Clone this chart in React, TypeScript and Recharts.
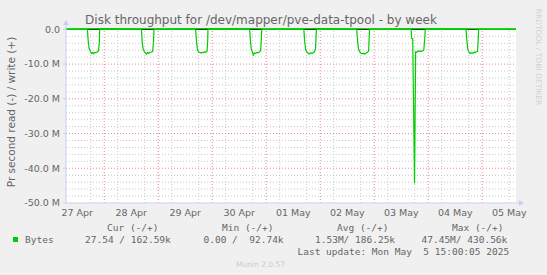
import React from 'react';
import { LineChart, Line, XAxis, YAxis, CartesianGrid, ReferenceLine } from 'recharts';

// Hours since 27 Apr 00:00 ; values in MB/s (read drawn negative)
const readHours = [
  7, 16.5, 16.9, 17.3, 17.8, 18.3, 18.8, 19.2, 19.7, 20.3, 20.9, 21.4, 21.8, 22.0,
  40.5, 40.9, 41.3, 41.8, 42.3, 42.8, 43.3, 43.8, 44.4, 45.0, 45.5, 45.9, 46.1,
  64.6, 65.0, 65.4, 65.9, 66.4, 67.0, 67.5, 68.0, 68.6, 69.2, 69.7, 70.0, 70.1,
  88.6, 89.0, 89.4, 89.9, 90.3, 90.8, 91.3, 91.9, 92.5, 93.0, 93.5, 93.8, 94.0,
  112.7, 113.1, 113.5, 114.0, 114.6, 115.1, 115.7, 116.3, 116.9, 117.5, 117.9, 118.1, 118.3,
  136.2, 136.6, 137.0, 137.5, 138.0, 138.6, 139.2, 139.8, 140.4, 141.0, 141.5, 141.7, 141.9,
  160.4, 160.6, 161.1, 161.9, 162.4, 162.8, 163.3, 164.0, 164.8, 165.5, 166.0, 166.4, 166.7,
  184.8, 185.2, 185.6, 186.1, 186.6, 187.1, 187.7, 188.3, 188.9, 189.4, 189.9, 190.2, 190.4,
  207,
];
const readMB = [
  0, 0, -3.5, -5.6, -6.3, -6.9, -6.7, -7.0, -6.6, -6.7, -6.5, -6.2, -4.0, 0,
  0, -3.8, -5.7, -6.4, -6.8, -7.1, -6.7, -6.9, -6.6, -6.5, -6.4, -3.5, 0,
  0, -3.2, -5.8, -6.5, -6.6, -6.8, -6.6, -6.7, -6.5, -6.6, -6.3, -3.0, 0,
  0, -3.5, -5.9, -6.6, -7.4, -6.8, -6.9, -6.6, -6.7, -6.5, -6.1, -3.0, 0,
  0, -3.6, -5.8, -6.5, -6.8, -7.1, -6.8, -6.9, -6.7, -6.4, -5.5, -2.5, 0,
  0, -3.4, -5.6, -6.4, -6.8, -7.0, -6.9, -7.1, -6.8, -6.6, -6.2, -3.0, 0,
  0, -2.6, -2.7, -44.3, -6.5, -6.6, -6.3, -6.2, -6.3, -6.2, -6.0, -3.0, 0,
  0, -3.5, -5.8, -6.5, -7.0, -6.7, -6.9, -6.6, -6.7, -6.4, -6.3, -3.0, 0,
  0,
];
const writeHours = [7, 24, 48, 72, 96, 120, 144, 168, 192, 207];
const writeMB = [0.17, 0.2, 0.18, 0.22, 0.19, 0.21, 0.18, 0.2, 0.17, 0.16];

const dayLabelHours = [12, 36, 60, 84, 108, 132, 156, 180, 204];
const dayLabels = ['27 Apr', '28 Apr', '29 Apr', '30 Apr', '01 May', '02 May', '03 May', '04 May', '05 May'];
const yTicks = [-50, -40, -30, -20, -10, 0];
const yTickLabels = ['-50.0 M', '-40.0 M', '-30.0 M', '-20.0 M', '-10.0 M', '0.0'];

const legendHeaders = ['Cur (-/+)', 'Min (-/+)', 'Avg (-/+)', 'Max (-/+)'];
const legendValues = ['27.54 / 162.59k', '0.00 /  92.74k', '1.53M/ 186.25k', '47.45M/ 430.56k'];
const lastUpdate = 'Last update: Mon May  5 15:00:05 2025';

const readData = readHours.map((h, i) => ({ h, v: readMB[i] }));
const writeData = writeHours.map((h, i) => ({ h, v: writeMB[i] }));

const minorX: number[] = [];
for (let h = 12; h <= 204; h += 6) if (h % 24 !== 0) minorX.push(h);
const majorX: number[] = [];
for (let h = 24; h <= 192; h += 24) majorX.push(h);
const minorY: number[] = [];
for (let v = -48; v <= -2; v += 2) if (v % 10 !== 0) minorY.push(v);
const majorY = [-40, -30, -20, -10];

const FONT = 'DejaVu Sans, sans-serif';
const MONO = 'DejaVu Sans Mono, monospace';
const TXT = '#666666';
const AXIS = '#c8cff2';

export default function App() {
  return (
    <div style={{ position: 'absolute', left: 0, top: 0, width: 547, height: 275, background: '#f0f0f0', overflow: 'hidden' }}>
      <LineChart width={547} height={275} data={readData} margin={{ top: 28, right: 31, bottom: 52, left: 6 }}>
        <CartesianGrid
          fill="#ffffff"
          stroke="#c8c8c8"
          strokeDasharray="1 2"
          horizontalValues={minorY}
          verticalValues={minorX}
        />
        <CartesianGrid
          fill="none"
          stroke="#e88a8a"
          strokeDasharray="1 2"
          horizontalValues={majorY}
          verticalValues={majorX}
        />
        <XAxis
          dataKey="h"
          type="number"
          domain={[7, 207]}
          ticks={dayLabelHours}
          tickFormatter={(v: number) => dayLabels[dayLabelHours.indexOf(v)]}
          tick={{ fontSize: 9.5, fill: TXT, fontFamily: FONT }}
          tickLine={false}
          tickSize={3}
          tickMargin={3}
          axisLine={{ stroke: AXIS }}
          height={20}
          allowDataOverflow
        />
        <YAxis
          type="number"
          domain={[-50, 0.4]}
          ticks={yTicks}
          tickFormatter={(v: number) => yTickLabels[yTicks.indexOf(v)]}
          tick={{ fontSize: 9.5, fill: TXT, fontFamily: FONT }}
          tickLine={{ stroke: AXIS }}
          tickSize={3}
          tickMargin={3}
          axisLine={{ stroke: AXIS }}
          width={60}
          allowDataOverflow
        />
        <ReferenceLine y={0} stroke="#000000" strokeWidth={1} />
        <Line data={writeData} dataKey="v" type="linear" stroke="#00cc00" strokeWidth={1.2} dot={false} isAnimationActive={false} />
        <Line data={readData} dataKey="v" type="linear" stroke="#00cc00" strokeWidth={1.2} dot={false} isAnimationActive={false} />
      </LineChart>
      <svg width={547} height={275} style={{ position: 'absolute', left: 0, top: 0, pointerEvents: 'none' }}>
        <line x1={66} y1={28} x2={66} y2={24} stroke={AXIS} />
        <polygon points="63,25 69,25 66,20" fill={AXIS} />
        <line x1={516} y1={203} x2={520} y2={203} stroke={AXIS} />
        <polygon points="519,200 519,206 524,203" fill={AXIS} />
        <text x={261} y={23.5} textAnchor="middle" fontFamily={FONT} fontSize={12} fill={TXT}>
          Disk throughput for /dev/mapper/pve-data-tpool - by week
        </text>
        <text transform="translate(10.5,112) rotate(-90)" textAnchor="middle" dominantBaseline="central" fontFamily={FONT} fontSize={10.5} fill={TXT}>
          Pr second read (-) / write (+)
        </text>
        <text transform="translate(538,57) rotate(90)" textAnchor="middle" dominantBaseline="central" fontFamily={FONT} fontSize={7.5} fill="#d0d0d0">
          RRDTOOL / TOBI OETIKER
        </text>
        {legendHeaders.map((t, i) => (
          <text key={t} x={[107, 222, 337, 452][i]} y={231} fontFamily={MONO} fontSize={9.5} fill={TXT} style={{ whiteSpace: 'pre' }}>
            {t}
          </text>
        ))}
        <rect x={13} y={237} width={5} height={5} fill="#00cc00" />
        <text x={25} y={243} fontFamily={MONO} fontSize={9.5} fill={TXT} style={{ whiteSpace: 'pre' }}>Bytes</text>
        {legendValues.map((t, i) => (
          <text key={t} x={[85, 203.5, 315, 421.5][i]} y={243} fontFamily={MONO} fontSize={9.5} fill={TXT} style={{ whiteSpace: 'pre' }}>
            {t}
          </text>
        ))}
        <text x={297.5} y={255} fontFamily={MONO} fontSize={9.5} fill={TXT} style={{ whiteSpace: 'pre' }}>{lastUpdate}</text>
        <text x={260.5} y={267} textAnchor="middle" fontFamily={FONT} fontSize={7.5} fill="#cccccc">Munin 2.0.57</text>
      </svg>
    </div>
  );
}
